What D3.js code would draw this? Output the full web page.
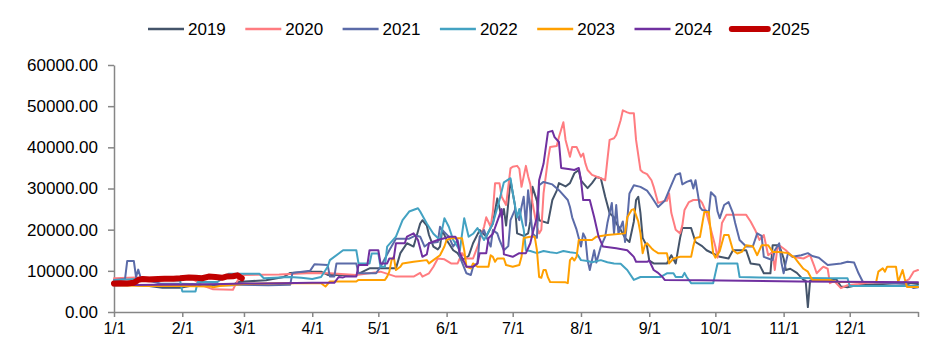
<!DOCTYPE html>
<html><head><meta charset="utf-8">
<script src="https://cdn.jsdelivr.net/npm/d3@7"></script>
<style>
html,body{margin:0;padding:0;background:#fff;}
text{font-family:"Liberation Sans",Arial,sans-serif;fill:#000;}
</style></head>
<body>
<svg id="chart" width="927" height="342"></svg>
<script>
// day-of-year, value
const s2019 = [[0,6500],[7,6600],[16,6300],[22,5900],[30,5900],[35,6400],[45,6500],[54,6500],[56,7300],[69,7700],[77,8500],[80,9500],[89,9800],[94,9800],[97,9000],[110,9000],[116,10600],[128,10600],[130,14300],[133,16700],[136,15900],[139,21500],[140,22300],[142,21000],[143,18700],[145,15900],[147,15200],[148,15900],[149,19900],[151,17500],[154,15000],[156,14300],[158,12600],[161,13600],[163,16700],[166,19900],[169,18300],[172,21500],[174,27600],[176,23000],[177,25000],[178,21000],[180,32000],[182,26000],[183,19100],[186,18500],[188,19100],[189,22000],[190,30400],[192,27000],[193,22300],[197,21600],[199,27200],[201,29500],[202,31300],[205,30500],[207,31300],[209,33700],[211,34500],[212,32000],[213,31300],[215,30100],[217,31300],[219,32800],[221,32500],[223,28000],[225,24000],[227,23000],[228,21600],[230,20000],[232,18000],[234,17000],[236,22000],[237,27200],[238,28000],[239,24000],[240,18000],[242,15900],[243,12500],[245,11800],[251,11800],[253,13800],[255,11800],[257,18000],[258,20400],[262,20400],[264,17000],[267,16000],[269,15000],[275,13400],[279,13000],[281,15000],[287,15000],[289,11800],[293,11500],[295,9400],[298,9400],[299,16200],[302,16200],[304,13000],[305,10200],[307,10500],[310,9500],[313,7800],[314,7600],[315,1200],[316,7600],[317,7800],[322,8000],[328,7900],[330,6200],[333,6000],[338,6600],[345,6700],[355,7000],[362,7000],[365,6800]];
const s2020 = [[0,8200],[10,8400],[25,8300],[35,8300],[40,6500],[45,5500],[54,5400],[55,6500],[57,8500],[59,9000],[75,9100],[90,9500],[98,9400],[110,9000],[121,9800],[128,8600],[136,8600],[139,9500],[140,8600],[143,9400],[145,11000],[147,13000],[150,12800],[153,11800],[156,11800],[158,14300],[160,13000],[163,13000],[165,15800],[166,17500],[168,20700],[169,23000],[171,20700],[172,24400],[173,31300],[175,31300],[176,28000],[178,26000],[180,34900],[181,35300],[183,35500],[184,34800],[185,30400],[187,35500],[188,33000],[189,31000],[190,26500],[192,20700],[193,19100],[194,20000],[195,28800],[197,37000],[198,40100],[201,40300],[202,42500],[204,46100],[205,41800],[207,37700],[208,40100],[210,40100],[212,37700],[213,38500],[214,36100],[215,34500],[217,33300],[221,32500],[223,32000],[224,37000],[225,41800],[227,42200],[228,43000],[230,46600],[231,49000],[233,48500],[234,48300],[236,48300],[237,41800],[239,34500],[240,34000],[242,33500],[244,32000],[245,30400],[247,26500],[250,27000],[251,27000],[252,28800],[253,24100],[255,20000],[257,19100],[258,21000],[259,24800],[261,26700],[263,27200],[266,27200],[267,26500],[269,24000],[271,20000],[273,15900],[274,13200],[275,16700],[276,21600],[278,23600],[287,23600],[289,22000],[291,20000],[293,17500],[295,18700],[297,13800],[299,14600],[300,10200],[301,15000],[302,16200],[305,15000],[308,13400],[313,13000],[316,13800],[318,11000],[319,9400],[321,10500],[322,11000],[324,10500],[325,7000],[327,7500],[330,5800],[333,6500],[338,6800],[342,7100],[358,7100],[361,8000],[363,9800],[365,10200]];
const s2021 = [[0,7800],[5,8000],[6,12400],[9,12400],[10,8500],[11,10300],[12,8500],[14,7800],[21,6900],[35,6800],[45,6700],[55,6600],[70,6500],[80,6600],[81,9500],[89,10000],[91,11600],[97,11400],[98,8600],[100,8600],[101,11800],[110,11800],[111,9400],[119,9400],[121,11000],[125,15000],[128,17800],[134,17800],[137,18600],[139,18300],[141,15900],[143,16700],[147,17000],[148,20700],[149,19900],[152,18300],[154,15900],[156,17500],[157,13400],[160,9400],[162,9000],[163,11000],[165,11800],[166,18300],[168,19900],[169,18300],[171,15900],[172,19900],[174,19100],[175,17500],[177,15000],[179,16000],[180,22300],[182,24800],[184,22300],[185,25500],[186,28000],[187,21000],[188,29600],[190,19100],[192,18000],[193,30800],[195,31600],[199,31000],[202,29600],[206,27200],[207,25500],[208,23000],[210,20000],[212,15900],[213,19100],[214,18000],[215,12600],[216,10200],[218,15000],[219,12000],[221,15900],[223,18300],[224,21600],[226,26500],[227,19000],[228,26000],[229,19100],[231,22000],[232,17000],[233,22300],[234,28800],[236,30800],[239,30400],[242,29500],[244,28000],[247,25500],[250,27000],[253,30800],[255,33300],[257,33700],[258,31000],[260,31600],[262,32000],[263,30000],[264,32000],[265,28800],[266,25500],[267,24800],[269,24600],[270,24000],[271,29100],[273,28000],[274,24400],[275,22800],[277,26000],[279,26700],[281,24000],[282,21600],[284,17500],[287,15900],[290,15900],[291,17500],[292,19100],[294,18500],[295,13400],[297,13000],[299,12600],[300,15000],[302,16700],[303,12000],[304,9400],[305,12000],[306,14300],[308,13400],[312,13800],[315,14300],[317,13600],[320,13200],[324,11400],[330,11800],[333,12200],[336,12000],[338,9400],[340,7300],[350,7100],[360,6800],[363,5800],[365,6000]];
const s2022 = [[0,7700],[10,8000],[25,7800],[30,7600],[31,5000],[37,5000],[38,7300],[47,7300],[52,9300],[66,9300],[68,8200],[80,8500],[85,8300],[90,8000],[94,8500],[97,11000],[98,12600],[104,15000],[110,15000],[111,11800],[116,11800],[117,14200],[120,14200],[121,11000],[123,11000],[124,15900],[128,18300],[131,22300],[134,24400],[138,25200],[139,24400],[142,21500],[145,19000],[148,17500],[150,22800],[152,20700],[154,17500],[157,15000],[159,22800],[161,18300],[163,19000],[165,20400],[168,17500],[172,21500],[175,27200],[177,31500],[180,32500],[181,29000],[183,23000],[184,25000],[186,20000],[187,15000],[189,14800],[192,14300],[195,14800],[198,14500],[201,14300],[204,14800],[207,14500],[210,14300],[212,12600],[215,12400],[217,12100],[221,12600],[224,12100],[227,11800],[230,11700],[233,10200],[236,7800],[239,8500],[248,8500],[251,9400],[254,9400],[255,8500],[258,8500],[259,9500],[260,8500],[262,7000],[272,7000],[274,11800],[283,11800],[284,8500],[293,8400],[302,8300],[325,8200],[333,8200],[334,6300],[365,6300]];
const s2023 = [[0,6500],[15,6300],[30,6300],[44,6200],[45,6000],[48,6300],[59,6800],[75,7000],[90,7000],[94,7000],[96,6200],[98,7400],[110,7400],[111,7800],[123,7800],[124,8600],[125,9800],[126,12600],[127,13400],[128,10200],[130,11000],[131,11800],[136,12200],[142,12600],[143,11800],[145,12600],[148,13800],[150,15900],[151,17500],[153,17900],[158,17900],[159,15000],[160,11000],[162,10600],[163,11800],[165,11000],[170,11000],[171,13800],[172,13400],[173,12200],[174,13000],[177,13000],[178,11400],[181,11000],[184,11400],[185,13400],[186,18000],[189,18300],[191,18300],[192,15000],[193,8500],[194,8300],[195,10200],[196,10200],[197,8400],[198,7300],[205,7200],[206,7000],[207,12600],[208,13200],[209,12500],[210,13400],[211,17500],[217,17500],[219,18300],[224,18700],[232,19100],[233,23000],[235,24800],[236,25000],[238,22000],[239,19100],[240,14300],[241,16200],[242,16700],[244,15500],[245,15000],[247,14300],[251,14300],[252,11800],[254,13000],[257,13400],[262,13400],[263,16000],[264,18000],[266,18200],[268,24300],[270,24300],[271,19000],[272,14300],[273,13200],[275,14800],[277,18700],[279,18700],[281,15000],[283,14200],[285,14600],[287,16200],[290,16000],[292,13800],[294,16200],[297,16200],[299,14600],[302,14600],[306,14300],[309,13200],[311,11800],[313,10500],[315,9800],[317,7800],[325,7800],[328,7300],[346,7300],[347,9800],[349,10600],[350,9800],[351,11000],[355,11000],[356,7300],[358,10200],[359,8000],[360,6100],[365,6100]];
const s2024 = [[0,6500],[20,6600],[40,6700],[59,6900],[75,7000],[90,7100],[100,7100],[102,8500],[104,8400],[105,8600],[110,8600],[111,11400],[115,11400],[116,15000],[120,15000],[121,11800],[124,11800],[125,13000],[127,13000],[128,16700],[132,16700],[133,18300],[136,19100],[138,17500],[140,13400],[142,14000],[143,16700],[147,17500],[150,17900],[152,18300],[155,18300],[156,17000],[157,14300],[160,11000],[163,11000],[165,11800],[166,14300],[169,14300],[170,17900],[172,19000],[174,22000],[176,25000],[177,14000],[181,13400],[184,14300],[187,14300],[189,16700],[190,19000],[192,23000],[193,32000],[195,36000],[197,43700],[199,44000],[200,42500],[202,41300],[203,35000],[207,34700],[209,34500],[211,35000],[212,32000],[213,27200],[216,27200],[218,23000],[220,18300],[222,15900],[228,15500],[233,15000],[236,13400],[237,12200],[242,12200],[243,12500],[245,10200],[247,9500],[249,8500],[250,7800],[266,7700],[311,7400],[365,7200]];
const s2025 = [[0,6900],[3,7000],[6,6900],[9,7100],[11,7800],[13,8000],[16,7900],[20,8000],[23,8100],[27,8100],[30,8200],[34,8400],[37,8300],[40,8200],[43,8600],[46,8500],[49,8300],[51,8600],[54,8700],[56,8900],[58,8200]];

const seriesNames = ["2019","2020","2021","2022","2023","2024","2025"];
const seriesData = [s2019,s2020,s2021,s2022,s2023,s2024,s2025];
const colors = ["#44546A","#FF7C80","#5B6BA8","#43A2C2","#FFA000","#7030A0","#C00000"];
const widths = [2,2,2,2,2,2,6];

const monthStarts = [0,31,59,90,120,151,181,212,243,273,304,334];
const monthLabels = ["1/1","2/1","3/1","4/1","5/1","6/1","7/1","8/1","9/1","10/1","11/1","12/1"];
const yTicks = [0,10000,20000,30000,40000,50000,60000];

const svg = d3.select("#chart");
const x = d3.scaleLinear().domain([0,365]).range([114,918]);
const y = d3.scaleLinear().domain([0,60000]).range([312,65]);

const axisColor = "#868686";

// y axis
const ya = svg.append("g").attr("transform","translate(114,0)")
  .call(d3.axisLeft(y).tickValues(yTicks).tickFormat(d3.format(".2f")).tickSize(6).tickSizeOuter(0).tickPadding(10));
ya.select(".domain").attr("stroke",axisColor).attr("stroke-width",1.5);
ya.selectAll(".tick line").attr("stroke",axisColor).attr("stroke-width",1.5);
ya.selectAll("text").style("font-size","17px").style("font-family","'Liberation Sans',Arial,sans-serif").attr("fill","#000");

// x axis
const xa = svg.append("g").attr("transform","translate(0,312)")
  .call(d3.axisBottom(x).tickValues(monthStarts.concat([365]))
    .tickFormat((d,i)=> i < monthLabels.length ? monthLabels[i] : "")
    .tickSize(5).tickSizeOuter(0).tickPadding(6));
xa.select(".domain").attr("stroke",axisColor).attr("stroke-width",1.5);
xa.selectAll(".tick line").attr("stroke",axisColor).attr("stroke-width",1.5);
xa.selectAll("text").style("font-size","16px").style("font-family","'Liberation Sans',Arial,sans-serif").attr("fill","#000");

// lines
const line = d3.line().x(d=>x(d[0])).y(d=>y(d[1]));
const g = svg.append("g");
seriesData.forEach((s,i)=>{
  g.append("path").datum(s)
    .attr("d",line)
    .attr("fill","none")
    .attr("stroke",colors[i])
    .attr("stroke-width",widths[i])
    .attr("stroke-linejoin","round")
    .attr("stroke-linecap","round");
});

// legend
const lg = svg.append("g").attr("transform","translate(148,29)");
seriesNames.forEach((n,i)=>{
  const it = lg.append("g").attr("transform",`translate(${i*97.3},0)`);
  it.append("line").attr("x1",0).attr("x2",36).attr("y1",0).attr("y2",0)
    .attr("stroke",colors[i]).attr("stroke-width", i===6?6:2.5)
    .attr("stroke-linecap", i===6?"round":"butt");
  it.append("text").attr("x",40).attr("y",0).attr("dy","0.35em")
    .style("font-size","17px").text(n);
});
</script>
</body></html>
